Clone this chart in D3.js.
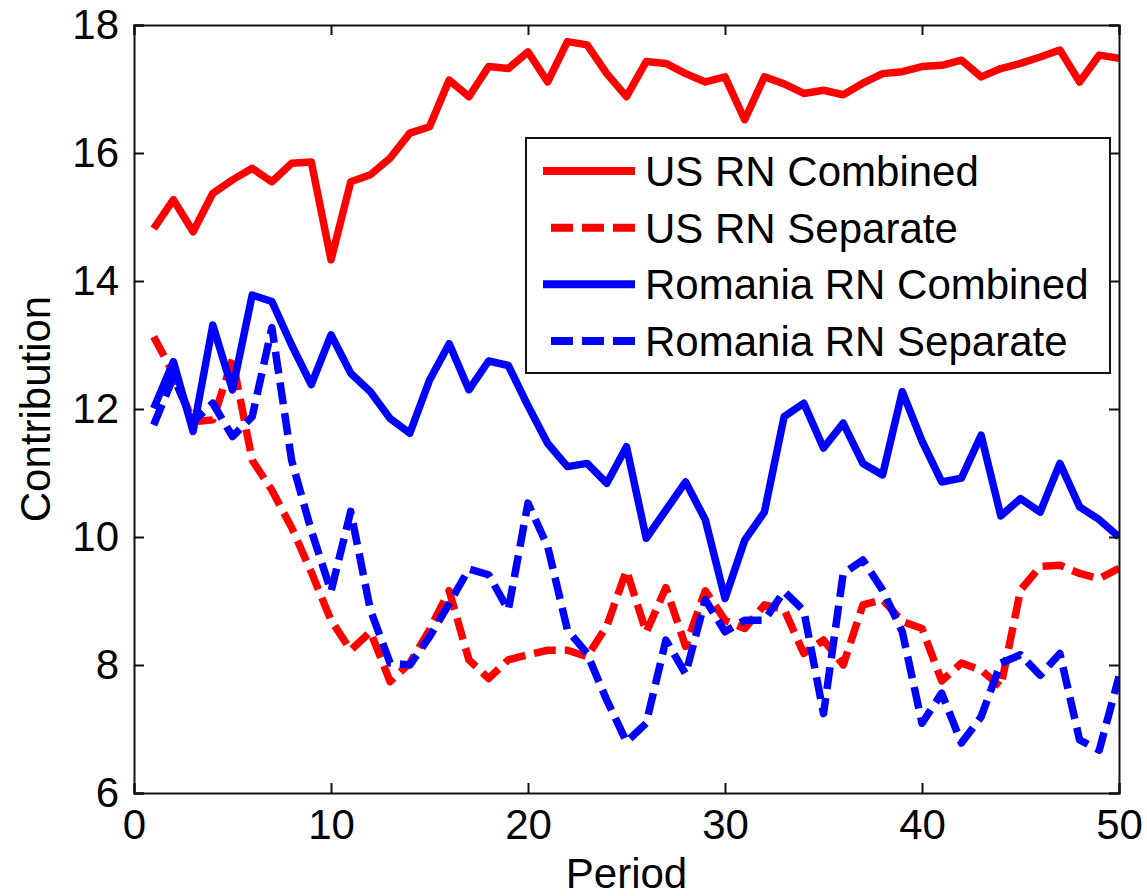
<!DOCTYPE html>
<html lang="en">
<head>
    <meta charset="UTF-8">
    <title>Contribution by Period</title>
    <script src="https://d3js.org/d3.v7.min.js"></script>
    <style>
        body { margin: 0; background: #fff; }
        svg text { font-family: "Liberation Sans", Arial, sans-serif; fill: #000; }
    </style>
</head>
<body>
<script>
    // Chart size
    const w = 1147;
    const h = 896;
    const margin = {top: 25, right: 28, bottom: 103, left: 134};

    // Data, periods 1..50
    const periods = d3.range(1, 51);
    const xTicks = [0, 10, 20, 30, 40, 50];
    const yTicks = [6, 8, 10, 12, 14, 16, 18];
    const seriesNames = ["US RN Combined", "US RN Separate", "Romania RN Combined", "Romania RN Separate"];

    const usCombined = [
        14.82, 15.27, 14.77, 15.37, 15.58, 15.76, 15.55, 15.84, 15.86, 14.33,
        15.55, 15.66, 15.92, 16.31, 16.41, 17.14, 16.88, 17.35, 17.32, 17.58,
        17.11, 17.74, 17.69, 17.24, 16.88, 17.43, 17.40, 17.24, 17.11, 17.19,
        16.52, 17.19, 17.08, 16.93, 16.98, 16.91, 17.09, 17.24, 17.27, 17.35,
        17.37, 17.45, 17.19, 17.32, 17.40, 17.50, 17.61, 17.11, 17.53, 17.48
    ];
    const usSeparate = [
        13.13, 12.55, 11.80, 11.83, 12.77, 11.20, 10.73, 10.15, 9.45, 8.70,
        8.23, 8.52, 7.74, 8.03, 8.55, 9.16, 8.08, 7.79, 8.08, 8.16,
        8.23, 8.23, 8.13, 8.61, 9.48, 8.51, 9.21, 8.29, 9.16, 8.70,
        8.57, 8.94, 8.87, 8.18, 8.39, 8.00, 8.94, 9.02, 8.68, 8.57,
        7.75, 8.03, 7.92, 7.66, 9.17, 9.54, 9.56, 9.43, 9.35, 9.51
    ];
    const roCombined = [
        12.01, 12.74, 11.65, 13.31, 12.30, 13.78, 13.68, 13.00, 12.38, 13.16,
        12.56, 12.27, 11.85, 11.62, 12.45, 13.02, 12.30, 12.75, 12.68, 12.05,
        11.46, 11.10, 11.15, 10.84, 11.41, 9.98, 10.42, 10.86, 10.27, 9.04,
        9.95, 10.39, 11.88, 12.09, 11.39, 11.78, 11.15, 10.97, 12.27, 11.50,
        10.86, 10.92, 11.59, 10.33, 10.60, 10.39, 11.15, 10.47, 10.27, 10.00
    ];
    const roSeparate = [
        11.75, 12.50, 11.80, 12.09, 11.57, 11.88, 13.27, 11.20, 10.10, 9.15,
        10.40, 8.86, 8.03, 8.00, 8.44, 8.96, 9.50, 9.41, 8.86, 10.53,
        9.85, 8.55, 8.18, 7.45, 6.80, 7.09, 8.39, 7.86, 9.02, 8.52,
        8.70, 8.70, 9.15, 8.85, 7.24, 9.43, 9.64, 9.17, 8.52, 7.09,
        7.56, 6.78, 7.19, 8.03, 8.16, 7.84, 8.18, 6.83, 6.67, 7.82
    ];

    const colors = ["#ff0000", "#ff0000", "#0000ff", "#0000ff"];
    const dashes = [null, "22,9", null, "22,9"];
    const allValues = [usCombined, usSeparate, roCombined, roSeparate];

    const series = seriesNames.map((name, i) => ({
        name: name,
        color: colors[i],
        dash: dashes[i],
        values: periods.map((p, j) => ({period: p, value: allValues[i][j]}))
    }));

    const svg = d3.select("body")
        .append("svg")
        .attr("width", w)
        .attr("height", h)
        .attr("viewBox", [0, 0, w, h]);

    const xScale = d3.scaleLinear()
        .domain([0, 50])
        .range([margin.left, w - margin.right]);

    const yScale = d3.scaleLinear()
        .domain([6, 18])
        .range([h - margin.bottom, margin.top]);

    // clip so lines stay in the box
    svg.append("clipPath")
        .attr("id", "plot-clip")
        .append("rect")
        .attr("x", margin.left)
        .attr("y", margin.top)
        .attr("width", w - margin.left - margin.right)
        .attr("height", h - margin.top - margin.bottom);

    // Data lines
    const line = d3.line()
        .x(d => xScale(d.period))
        .y(d => yScale(d.value));

    svg.append("g")
        .attr("clip-path", "url(#plot-clip)")
        .selectAll("path")
        .data(series)
        .enter()
        .append("path")
        .attr("d", d => line(d.values))
        .attr("fill", "none")
        .attr("stroke", d => d.color)
        .attr("stroke-width", 7.5)
        .attr("stroke-linejoin", "round")
        .attr("stroke-dasharray", d => d.dash);

    // Axes, ticks pointing inward, mirrored on top and right
    const tickLen = 10;
    const bottomAxis = d3.axisBottom(xScale).tickValues(xTicks).tickSize(-tickLen).tickPadding(16);
    const topAxis = d3.axisTop(xScale).tickValues(xTicks).tickSize(-tickLen).tickFormat("");
    const leftAxis = d3.axisLeft(yScale).tickValues(yTicks).tickSize(-tickLen).tickPadding(15);
    const rightAxis = d3.axisRight(yScale).tickValues(yTicks).tickSize(-tickLen).tickFormat("");

    svg.append("g").attr("class", "axis").attr("transform", `translate(0, ${h - margin.bottom})`).call(bottomAxis);
    svg.append("g").attr("class", "axis").attr("transform", `translate(0, ${margin.top})`).call(topAxis);
    svg.append("g").attr("class", "axis").attr("transform", `translate(${margin.left}, 0)`).call(leftAxis);
    svg.append("g").attr("class", "axis").attr("transform", `translate(${w - margin.right}, 0)`).call(rightAxis);

    svg.selectAll(".axis path").attr("stroke", "#111").attr("stroke-width", 2);
    svg.selectAll(".axis line").attr("stroke", "#111").attr("stroke-width", 2);
    svg.selectAll(".axis text")
        .style("font-family", "'Liberation Sans', Arial, sans-serif")
        .style("font-size", "42px")
        .attr("fill", "#000");

    // Axis labels
    svg.append("text")
        .attr("x", (margin.left + w - margin.right) / 2)
        .attr("y", 888)
        .attr("text-anchor", "middle")
        .style("font-size", "42px")
        .text("Period");

    svg.append("text")
        .attr("transform", `translate(50, ${(margin.top + h - margin.bottom) / 2}) rotate(-90)`)
        .attr("text-anchor", "middle")
        .style("font-size", "42px")
        .text("Contribution");

    // Legend
    const legend = svg.append("g").attr("id", "legend");
    legend.append("rect")
        .attr("x", 526)
        .attr("y", 138)
        .attr("width", 584)
        .attr("height", 235)
        .attr("fill", "#fff")
        .attr("stroke", "#111")
        .attr("stroke-width", 2);

    const rowY = d3.scalePoint()
        .domain(seriesNames)
        .range([171, 341]);

    const items = legend.selectAll("g.item")
        .data(series)
        .enter()
        .append("g")
        .attr("class", "item")
        .attr("transform", d => `translate(0, ${rowY(d.name)})`);

    items.append("line")
        .attr("x1", d => d.dash ? 551 : 543)
        .attr("x2", 635)
        .attr("stroke", d => d.color)
        .attr("stroke-width", 8)
        .attr("stroke-dasharray", d => d.dash);

    items.append("text")
        .attr("x", 645)
        .attr("y", 15)
        .style("font-size", "42px")
        .text(d => d.name);
</script>
</body>
</html>
